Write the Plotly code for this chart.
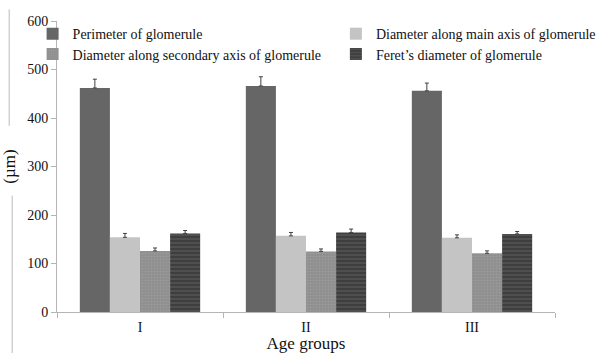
import plotly.graph_objects as go

categories = ["I", "II", "III"]
series_names = [
    "Perimeter of glomerule",
    "Diameter along main axis of glomerule",
    "Diameter along secondary axis of glomerule",
    "Feret\u2019s diameter of glomerule",
]
perimeter = [462, 466, 456]
perimeter_err = [18, 19, 16]
main_axis = [154, 157, 153]
main_axis_err = [8, 7, 6]
secondary_axis = [126, 125, 121]
secondary_axis_err = [6, 5, 5]
feret = [162, 164, 161]
feret_err = [6, 7, 5]

values = [perimeter, main_axis, secondary_axis, feret]
errors = [perimeter_err, main_axis_err, secondary_axis_err, feret_err]
colors = ["#666666", "#c4c4c4", "#8e8e8e", "#3e3e3e"]
patterns = [
    None,
    None,
    dict(shape=".", fgcolor="#a8a8a8", size=3, solidity=0.35),
    dict(shape="-", fgcolor="#6e6e6e", size=4, solidity=0.35),
]
legend_ids = ["legend", "legend2", "legend3", "legend4"]

fig = go.Figure()
for name, v, e, c, p, lg in zip(series_names, values, errors, colors, patterns, legend_ids):
    marker = dict(color=c, line=dict(width=0))
    if p:
        marker["pattern"] = p
    fig.add_trace(go.Bar(
        x=categories, y=v, name=name, marker=marker, legend=lg,
        error_y=dict(type="data", array=e, arrayminus=[0] * len(e), symmetric=False,
                     color="#404040", thickness=1, width=2),
    ))

serif = "Liberation Serif, serif"
font = dict(family=serif, size=14, color="#111111")
legfont = dict(family=serif, size=14, color="#111111")


def leg(x, y):
    return dict(orientation="v", x=x, y=y, xanchor="left", yanchor="middle",
                bgcolor="rgba(0,0,0,0)", font=legfont, borderwidth=0)


fig.update_layout(
    width=613, height=353,
    margin=dict(l=57, r=55, t=21, b=41),
    paper_bgcolor="white", plot_bgcolor="white",
    font=font,
    barmode="group", bargap=0.275, bargroupgap=0,
    showlegend=True,
    legend=leg(-0.049, 0.955),
    legend2=leg(0.560, 0.955),
    legend3=leg(-0.049, 0.885),
    legend4=leg(0.560, 0.885),
    xaxis=dict(showline=True, linecolor="#b5b5b5", linewidth=1, ticks="outside",
               tickson="boundaries", ticklen=5, tickcolor="#b5b5b5", ticklabelstandoff=2,
               automargin=False, tickfont=font,
               title=dict(text="Age groups", standoff=5), showgrid=False),
    yaxis=dict(range=[0, 600], dtick=100, showline=True, linecolor="#b5b5b5", linewidth=1,
               ticks="outside", ticklen=5, tickcolor="#b5b5b5", showgrid=False,
               automargin=False, tickfont=font,
               zeroline=False, title=dict(text="(\u00b5m)", standoff=10)),
)
# thin border fragments at left of the original image
fig.add_shape(type="line", xref="paper", yref="paper", x0=-0.096, x1=-0.096, y0=1.04, y1=0.64,
              line=dict(color="#bbbbbb", width=1))
fig.add_shape(type="line", xref="paper", yref="paper", x0=-0.090, x1=-0.090, y0=0.40, y1=-0.15,
              line=dict(color="#bbbbbb", width=1))

fig.write_html("out.html")
